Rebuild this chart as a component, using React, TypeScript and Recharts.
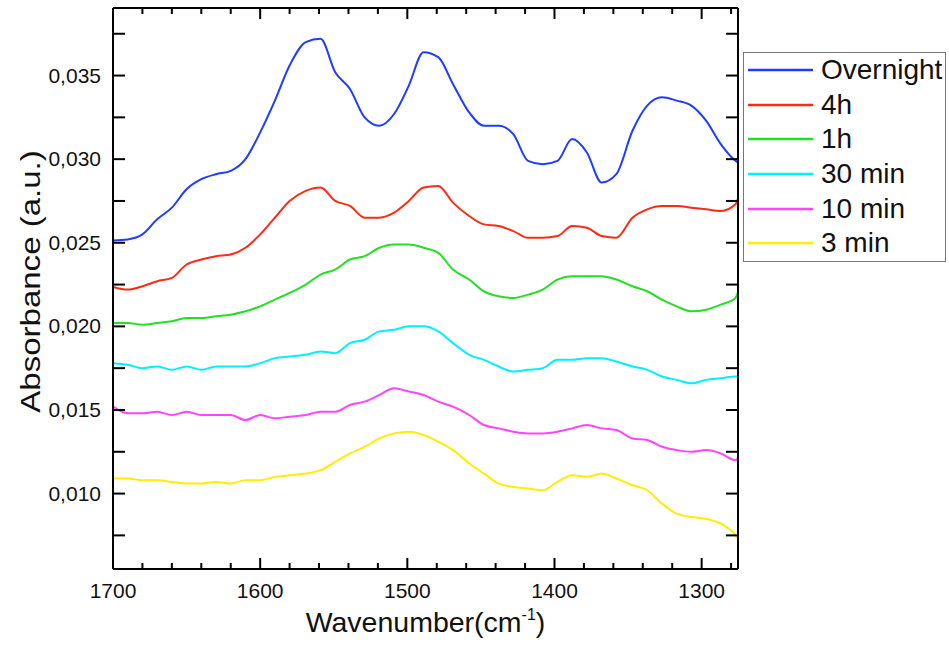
import { LineChart, Line, XAxis, YAxis, Legend } from "recharts";

// wavenumbers (cm-1) where the curves were read
const wavenumbers = [
  1700, 1690, 1680, 1670, 1660, 1650, 1640, 1630, 1620, 1610, 1600, 1590, 1580,
  1569, 1559, 1549, 1539, 1529, 1519, 1509, 1499, 1489, 1479, 1469, 1458, 1448,
  1438, 1428, 1418, 1408, 1398, 1388, 1378, 1368, 1358, 1347, 1337, 1327, 1317,
  1307, 1297, 1287, 1277, 1275.5,
];

const overnight = [
  0.02514, 0.0252, 0.0255, 0.0264, 0.0271, 0.0282, 0.0288, 0.0291, 0.0293,
  0.03, 0.0316, 0.0335, 0.0356, 0.037, 0.0372, 0.0352, 0.0342, 0.0325, 0.032,
  0.0327, 0.0344, 0.0364, 0.0361, 0.0345, 0.0328, 0.032, 0.032, 0.0315, 0.0299,
  0.0297, 0.0299, 0.0312, 0.0304, 0.0286, 0.0291, 0.0317, 0.0332, 0.0337,
  0.0335, 0.0332, 0.0323, 0.0309, 0.0299, 0.0298,
];
const h4 = [
  0.02236, 0.0222, 0.0224, 0.0227, 0.0229, 0.0237, 0.024, 0.0242, 0.0243,
  0.0247, 0.0255, 0.0265, 0.0275, 0.0281, 0.0283, 0.0275, 0.0272, 0.0265,
  0.0265, 0.0268, 0.0275, 0.0283, 0.0284, 0.0274, 0.0266, 0.0261, 0.026,
  0.0257, 0.0253, 0.0253, 0.0254, 0.026, 0.0259, 0.0254, 0.0253, 0.0265, 0.027,
  0.0272, 0.0272, 0.0271, 0.027, 0.0269, 0.0273, 0.0276,
];
const h1 = [
  0.0202, 0.0202, 0.0201, 0.0202, 0.0203, 0.0205, 0.0205, 0.0206, 0.0207,
  0.0209, 0.0212, 0.0216, 0.022, 0.0225, 0.0231, 0.0234, 0.024, 0.0242, 0.0247,
  0.0249, 0.0249, 0.0247, 0.0244, 0.0234, 0.0228, 0.0221, 0.0218, 0.0217,
  0.0219, 0.0222, 0.0228, 0.023, 0.023, 0.023, 0.0228, 0.0224, 0.0221, 0.0216,
  0.0212, 0.0209, 0.021, 0.0213, 0.0217, 0.022,
];
const min30 = [
  0.0178, 0.0177, 0.0175, 0.0176, 0.0174, 0.0176, 0.0174, 0.0176, 0.0176,
  0.0176, 0.0178, 0.0181, 0.0182, 0.0183, 0.0185, 0.0184, 0.019, 0.0192,
  0.0197, 0.0198, 0.02, 0.02, 0.0197, 0.019, 0.0183, 0.018, 0.0176, 0.0173,
  0.0174, 0.0175, 0.018, 0.018, 0.0181, 0.0181, 0.0179, 0.0176, 0.0174, 0.017,
  0.0168, 0.0166, 0.0168, 0.0169, 0.017, 0.017,
];
const min10 = [
  0.0152, 0.0148, 0.0148, 0.0149, 0.0147, 0.0149, 0.0147, 0.0147, 0.0147,
  0.0144, 0.0147, 0.0145, 0.0146, 0.0147, 0.0149, 0.0149, 0.0153, 0.0155,
  0.0159, 0.0163, 0.0161, 0.0159, 0.0155, 0.0152, 0.0147, 0.0141, 0.0139,
  0.0137, 0.0136, 0.0136, 0.0137, 0.0139, 0.0141, 0.0139, 0.0138, 0.0133,
  0.0132, 0.0128, 0.0126, 0.0125, 0.0126, 0.0124, 0.012, 0.0121,
];
const min3 = [
  0.0109, 0.0109, 0.0108, 0.0108, 0.0107, 0.0106, 0.0106, 0.0107, 0.0106,
  0.0108, 0.0108, 0.011, 0.0111, 0.0112, 0.0114, 0.0119, 0.0124, 0.0128,
  0.0133, 0.0136, 0.0137, 0.0135, 0.0131, 0.0126, 0.0118, 0.0112, 0.0106,
  0.0104, 0.0103, 0.0102, 0.0107, 0.0111, 0.011, 0.0112, 0.0109, 0.0105,
  0.0102, 0.0094, 0.0088, 0.0086, 0.0085, 0.0082, 0.0075, 0.0073,
];

const xTicks = [
  1700, 1680, 1660, 1640, 1620, 1600, 1580, 1560, 1540, 1520, 1500, 1480, 1460,
  1440, 1420, 1400, 1380, 1360, 1340, 1320, 1300, 1280,
];
const yTicks = [
  0.0075, 0.01, 0.0125, 0.015, 0.0175, 0.02, 0.0225, 0.025, 0.0275, 0.03,
  0.0325, 0.035, 0.0375,
];

const series = [
  { key: "overnight", name: "Overnight", color: "#1f3cff", values: overnight },
  { key: "h4", name: "4h", color: "#ff2a14", values: h4 },
  { key: "h1", name: "1h", color: "#22e022", values: h1 },
  { key: "min30", name: "30 min", color: "#00f0ff", values: min30 },
  { key: "min10", name: "10 min", color: "#ff44ff", values: min10 },
  { key: "min3", name: "3 min", color: "#ffee00", values: min3 },
];

const data = wavenumbers.map((w, i) => {
  const row: Record<string, number> = { w };
  series.forEach((s) => (row[s.key] = s.values[i]));
  return row;
});

const xDomain = [1275.3, 1700];
const yDomain = [0.00549, 0.03904];
const font = "'Liberation Sans', Arial, sans-serif";

const isMajorX = (v: number) => v % 100 === 0;
const isMajorY = (v: number) => Math.abs(v / 0.005 - Math.round(v / 0.005)) < 1e-6;

const BottomTick = ({ x, y, payload }: any) => {
  const major = isMajorX(payload.value);
  return (
    <g>
      <line x1={x} x2={x} y1={y} y2={y - (major ? 11 : 6)} stroke="#000" strokeWidth={2} />
      {major && (
        <text x={x} y={y + 29} textAnchor="middle" fontSize={21} fontFamily={font} fill="#111">
          {payload.value}
        </text>
      )}
    </g>
  );
};

const TopTick = ({ x, y, payload }: any) => {
  const major = isMajorX(payload.value);
  return <line x1={x} x2={x} y1={y} y2={y + (major ? 11 : 6)} stroke="#000" strokeWidth={2} />;
};

const LeftTick = ({ x, y, payload }: any) => {
  const major = isMajorY(payload.value);
  return (
    <g>
      <line x1={x} x2={x + 12} y1={y} y2={y} stroke="#000" strokeWidth={2} />
      {major && (
        <text x={x - 12} y={y + 7} textAnchor="end" fontSize={21} fontFamily={font} fill="#111">
          {payload.value.toFixed(3).replace(".", ",")}
        </text>
      )}
    </g>
  );
};

const RightTick = ({ x, y }: any) => (
  <line x1={x} x2={x - 12} y1={y} y2={y} stroke="#000" strokeWidth={2} />
);

const XLabel = ({ viewBox }: any) => {
  const cx = viewBox.x + viewBox.width / 2;
  return (
    <text x={cx} y={viewBox.y + 63} textAnchor="middle" fontSize={28.5} fontFamily={font} fill="#111">
      <tspan>Wavenumber(cm</tspan>
      <tspan dy={-12} fontSize={16}>-1</tspan>
      <tspan dy={12}>)</tspan>
    </text>
  );
};

const YLabel = ({ viewBox }: any) => {
  const cy = viewBox.y + viewBox.height / 2 - 7;
  return (
    <text
      x={0}
      y={0}
      transform={`translate(30, ${cy}) rotate(-90) scale(1.18, 1)`}
      textAnchor="middle"
      dominantBaseline="central"
      fontSize={28}
      fontFamily={font}
      fill="#111"
    >
      Absorbance (a.u.)
    </text>
  );
};

const LegendBox = () => (
  <div
    style={{
      border: "1.5px solid #777",
      background: "#fff",
      width: 203,
      boxSizing: "border-box",
      fontFamily: font,
      fontSize: 28,
      color: "#111",
    }}
  >
    {series.map((s) => (
      <div key={s.key} style={{ display: "flex", alignItems: "center", height: 34.6 }}>
        <svg width={77} height={10} style={{ flexShrink: 0 }}>
          <line x1={4} x2={69} y1={5} y2={5} stroke={s.color} strokeWidth={2.5} />
        </svg>
        <span style={{ lineHeight: 1, whiteSpace: "nowrap" }}>{s.name}</span>
      </div>
    ))}
  </div>
);

export default function App() {
  return (
    <div style={{ position: "fixed", left: 0, top: 0, width: 949, height: 647, background: "#fff" }}>
      <LineChart width={949} height={647} data={data} margin={{ top: 8, right: 211, bottom: 0, left: 0 }}>
        <XAxis
          xAxisId="bottom"
          dataKey="w"
          type="number"
          domain={xDomain}
          reversed
          allowDataOverflow
          ticks={xTicks}
          interval={0}
          tickSize={0}
          tickMargin={0}
          tickLine={false}
          tick={BottomTick}
          axisLine={{ stroke: "#000", strokeWidth: 2 }}
          height={78}
          label={XLabel}
        />
        <XAxis
          xAxisId="top"
          dataKey="w"
          type="number"
          orientation="top"
          mirror
          domain={xDomain}
          reversed
          allowDataOverflow
          ticks={xTicks}
          interval={0}
          tickSize={0}
          tickMargin={0}
          tickLine={false}
          tick={TopTick}
          axisLine={{ stroke: "#000", strokeWidth: 2 }}
          height={1}
        />
        <YAxis
          yAxisId="left"
          type="number"
          domain={yDomain}
          allowDataOverflow
          ticks={yTicks}
          interval={0}
          tickSize={0}
          tickMargin={0}
          tickLine={false}
          tick={LeftTick}
          axisLine={{ stroke: "#000", strokeWidth: 2 }}
          width={113}
          label={YLabel}
        />
        <YAxis
          yAxisId="right"
          orientation="right"
          mirror
          type="number"
          domain={yDomain}
          allowDataOverflow
          ticks={yTicks}
          interval={0}
          tickSize={0}
          tickMargin={0}
          tickLine={false}
          tick={RightTick}
          axisLine={{ stroke: "#000", strokeWidth: 2 }}
          width={1}
        />
        <Legend
          layout="horizontal"
          verticalAlign="middle"
          align="center"
          content={LegendBox}
          wrapperStyle={{ position: "absolute", left: 743, top: 52, width: 203 }}
        />
        {/* invisible copy tied to the mirrored frame axes so they get a domain */}
        <Line
          xAxisId="top"
          yAxisId="right"
          dataKey="overnight"
          stroke="none"
          dot={false}
          activeDot={false}
          legendType="none"
          isAnimationActive={false}
        />
        {series.map((s) => (
          <Line
            key={s.key}
            xAxisId="bottom"
            yAxisId="left"
            type="monotone"
            dataKey={s.key}
            name={s.name}
            stroke={s.color}
            strokeWidth={2}
            dot={false}
            activeDot={false}
            isAnimationActive={false}
          />
        ))}
      </LineChart>
    </div>
  );
}
